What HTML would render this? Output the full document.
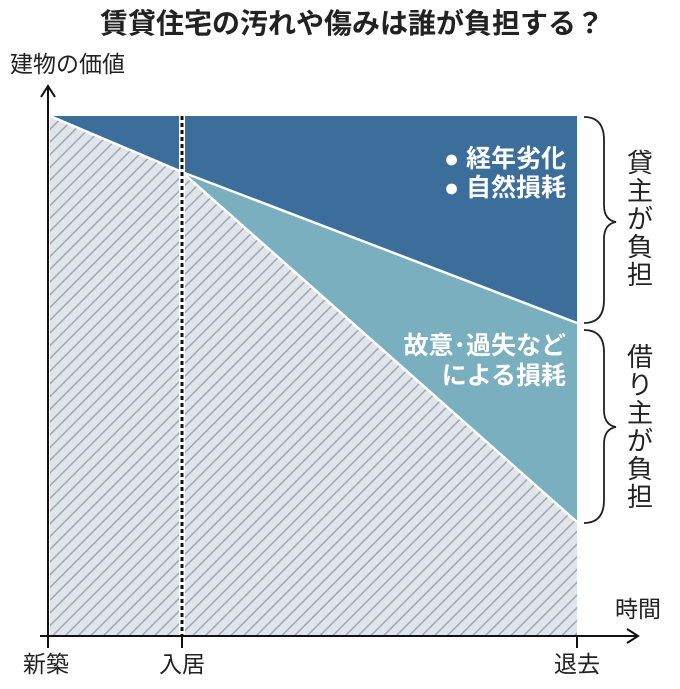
<!DOCTYPE html>
<html><head><meta charset="utf-8"><style>
html,body{margin:0;padding:0;background:#fff;}
svg{display:block;font-family:"Liberation Sans","Noto Sans CJK JP",sans-serif;}
</style></head><body>
<svg width="680" height="689" viewBox="0 0 680 689" xmlns="http://www.w3.org/2000/svg">
<defs>
<pattern id="h" patternUnits="userSpaceOnUse" width="9" height="9" patternTransform="rotate(45)">
<rect width="9" height="9" fill="#e0e4eb"/>
<rect x="0" y="0" width="1.5" height="9" fill="#a2a6ae"/>
</pattern>
</defs>
<text x="352" y="33" text-anchor="middle" font-size="28" font-weight="bold" fill="#222">賃貸住宅の汚れや傷みは誰が負担する？</text>
<text x="10" y="72" font-size="23" fill="#222">建物の価値</text>
<polygon points="50,116 577,116 577,323 182,172" fill="#3b6e9b"/>
<polygon points="182,172 577,323 577,522" fill="#79afbf"/>
<polygon points="50,116 182,172 577,522 577,636 50,636" fill="url(#h)"/>
<polyline points="50,116 182,172 577,323" fill="none" stroke="#fff" stroke-width="2.5"/>
<line x1="182" y1="172" x2="577" y2="522" stroke="#fff" stroke-width="2.5"/>
<line x1="182" y1="116" x2="182" y2="636" stroke="#fff" stroke-width="6"/>
<line x1="182" y1="116" x2="182" y2="636" stroke="#111" stroke-width="3" stroke-dasharray="4,3"/>
<line x1="48" y1="86" x2="48" y2="648" stroke="#111" stroke-width="2"/>
<polyline points="41,97 48,86 55,97" fill="none" stroke="#111" stroke-width="2"/>
<line x1="40" y1="636" x2="637" y2="636" stroke="#111" stroke-width="2"/>
<polyline points="627,629 638,636 627,643" fill="none" stroke="#111" stroke-width="2"/>
<line x1="182" y1="636" x2="182" y2="648" stroke="#111" stroke-width="2"/>
<line x1="577" y1="636" x2="577" y2="648" stroke="#111" stroke-width="2"/>
<text x="46" y="672" text-anchor="middle" font-size="23" fill="#222">新築</text>
<text x="182" y="672" text-anchor="middle" font-size="23" fill="#222">入居</text>
<text x="577" y="672" text-anchor="middle" font-size="23" fill="#222">退去</text>
<text x="638" y="617" text-anchor="middle" font-size="23" fill="#222">時間</text>
<g font-size="25" font-weight="bold" fill="#fff" text-anchor="end">
<text x="566" y="167">● 経年劣化</text>
<text x="566" y="196">● 自然損耗</text>
<text x="566" y="354">故意･過失など</text>
<text x="566" y="384">による損耗</text>
</g>
<path d="M584,117 Q604,117 604,140 L604,205 Q604,220 616,222 Q604,224 604,239 L604,300 Q604,323 584,323" fill="none" stroke="#222" stroke-width="1.8"/>
<path d="M584,330 Q604,330 604,352 L604,410 Q604,425 616,427 Q604,429 604,444 L604,500 Q604,523 584,523" fill="none" stroke="#222" stroke-width="1.8"/>
<g font-size="26" fill="#222" text-anchor="middle">
<text x="640" y="172">貸</text>
<text x="640" y="200">主</text>
<text x="640" y="228">が</text>
<text x="640" y="256">負</text>
<text x="640" y="284">担</text>
<text x="640" y="366">借</text>
<text x="640" y="394">り</text>
<text x="640" y="422">主</text>
<text x="640" y="450">が</text>
<text x="640" y="478">負</text>
<text x="640" y="506">担</text>
</g>
</svg>
</body></html>
